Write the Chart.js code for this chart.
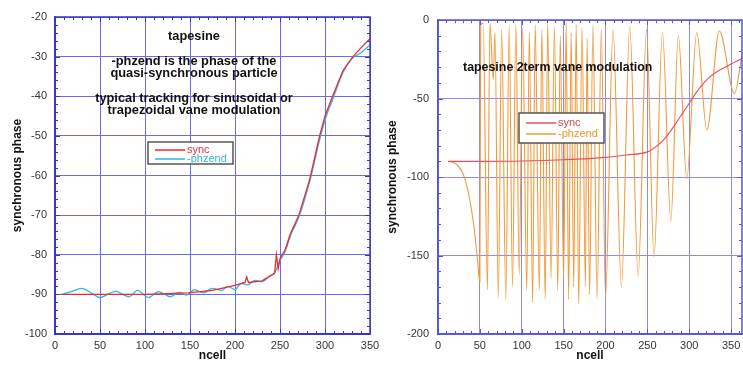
<!DOCTYPE html>
<html>
<head>
<meta charset="utf-8">
<script src="https://cdn.jsdelivr.net/npm/chart.js@4.4.1/dist/chart.umd.min.js"></script>
<style>
  html, body { margin: 0; padding: 0; background: #fff; }
  #wrap { position: relative; width: 743px; height: 365px; overflow: hidden; }
  canvas { position: absolute; top: 0; }
  #left { left: 0; }
  #right { left: 372px; }
</style>
</head>
<body>
<div id="wrap">
  <canvas id="left" width="386" height="365"></canvas>
  <canvas id="right" width="371" height="365"></canvas>
</div>
<script>
// ---- left panel: tapesine (sinusoidal / trapezoidal vane modulation)
const leftSyncX = [7, 50, 100, 148, 175, 200, 211, 213, 215, 230, 244, 246, 248, 250, 256, 261, 271, 283, 294, 300, 309, 320, 331, 340, 350];
const leftSyncY = [-90, -90, -90, -89.6, -89, -87.7, -87, -85.6, -87, -86.6, -84.7, -80, -83.5, -81, -78.6, -75, -70, -61, -50, -45, -39.7, -33.5, -30, -27.8, -25.5];

const leftPhzX = [8, 18, 30, 40, 50, 60, 68, 75, 82, 92, 98, 104, 115, 122, 128, 138, 146, 155, 165, 175, 185, 192, 200, 207, 214, 222, 230, 238, 244, 250, 256, 262, 271, 283, 294, 300, 309, 320, 330, 340, 350];
const leftPhzY = [-90, -89.3, -88.5, -89.6, -90.8, -89.8, -89.2, -90, -90.6, -89, -90, -90.8, -89.3, -90, -90.6, -89.5, -90.2, -88.8, -89.6, -88.5, -89, -88, -88.8, -87.2, -87.6, -86.5, -86.8, -85.5, -84.5, -81.5, -79, -75, -70.5, -61.5, -51, -46, -40.5, -34, -30.5, -29, -27];

// ---- right panel: tapesine 2term vane modulation
const rightSyncX = [12, 50, 100, 150, 200, 225, 250, 262, 270, 280, 290, 300, 310, 322, 333, 345, 363];
const rightSyncY = [-90, -90, -89.8, -89, -87.5, -86, -84, -80, -76, -69, -61, -53, -45, -37.5, -33, -29.5, -24.5];

const rightPhzX = [13, 22, 30, 37, 43, 47, 50, 51, 54, 59, 62, 66, 68, 72, 76, 81, 85, 89, 93, 97, 101, 106, 109, 113, 116, 121, 124, 128, 131, 135, 139, 143, 146, 150, 153, 156, 159, 162, 165, 168, 172, 176, 178, 181, 185, 190, 195, 200, 209, 219, 229, 239, 249, 258, 268, 278, 287, 297, 309, 321, 336, 354, 363];
const rightPhzY = [-90, -92, -98, -112, -132, -152, -167, -3, -2, -172, -2, -38, -8, -177, -6, -178, -4, -170, -3, -162, -5, -172, -8, -180, -3, -172, -6, -178, -2, -165, -4, -172, -10, -165, -2, -178, -8, -170, -3, -181, -5, -170, -12, -175, -3, -178, -6, -177, -6, -170, -4, -163, -6, -151, -8, -128, -10, -101, -8, -70, -7, -47, -22];

const leftText = ['tapesine', '-phzend is the phase of the', 'quasi-synchronous particle', 'typical tracking for sinusoidal or', 'trapezoidal vane modulation'];
const rightText = ['tapesine 2term vane modulation'];

function pts(xs, ys) { return xs.map((x, i) => ({ x: x, y: ys[i] })); }

const FONT = '"Liberation Sans", Arial, Helvetica, sans-serif';

// frame, inward minor ticks, notes and the little legend box
const decorPlugin = {
  id: 'decor',
  afterDraw(chart, args, opts) {
    const { ctx, chartArea: a, scales: { x, y } } = chart;
    ctx.save();
    ctx.strokeStyle = opts.frame;
    ctx.lineWidth = 1.5;
    ctx.strokeRect(a.left, a.top, a.right - a.left, a.bottom - a.top);

    ctx.lineWidth = 1;
    ctx.beginPath();
    for (let v = x.min; v <= x.max + 1e-6; v += opts.xMinor) {
      const px = Math.round(x.getPixelForValue(v)) + 0.5;
      const len = (Math.abs(v % opts.xMajor) < 1e-6) ? 5 : 3;
      ctx.moveTo(px, a.bottom); ctx.lineTo(px, a.bottom - len);
      ctx.moveTo(px, a.top); ctx.lineTo(px, a.top + len);
    }
    for (let v = y.min; v <= y.max + 1e-6; v += opts.yMinor) {
      const py = Math.round(y.getPixelForValue(v)) + 0.5;
      const len = (Math.abs(v % opts.yMajor) < 1e-6) ? 5 : 3;
      ctx.moveTo(a.left, py); ctx.lineTo(a.left + len, py);
      ctx.moveTo(a.right, py); ctx.lineTo(a.right - len, py);
    }
    ctx.stroke();

    // notes
    ctx.fillStyle = '#111';
    ctx.font = 'bold ' + opts.noteSize + 'px ' + FONT;
    ctx.textAlign = opts.noteAlign;
    ctx.textBaseline = 'middle';
    opts.notes.forEach((t, i) => ctx.fillText(t, opts.noteX, opts.noteY[i]));

    // legend
    const L = opts.legend;
    ctx.fillStyle = '#fff';
    ctx.fillRect(L.x, L.y, L.w, L.h);
    ctx.strokeStyle = '#555';
    ctx.lineWidth = 1.5;
    ctx.strokeRect(L.x, L.y, L.w, L.h);
    ctx.font = '11px ' + FONT;
    ctx.textAlign = 'left';
    chart.data.datasets.forEach((ds, i) => {
      const ly = L.y + L.row0 + i * L.rowGap;
      ctx.strokeStyle = ds.borderColor;
      ctx.lineWidth = 1.5;
      ctx.beginPath();
      ctx.moveTo(L.x + 7, ly); ctx.lineTo(L.x + 37, ly);
      ctx.stroke();
      ctx.fillStyle = L.textColors[i];
      ctx.fillText(ds.label, L.x + 39, ly);
    });
    ctx.restore();
  }
};

function buildPanel(id, cfg) {
  return new Chart(document.getElementById(id), {
    type: 'line',
    data: { datasets: cfg.datasets },
    options: {
      responsive: false,
      animation: false,
      devicePixelRatio: 1,
      layout: { padding: cfg.padding },
      elements: { point: { radius: 0 } },
      scales: {
        x: {
          type: 'linear', min: cfg.xMin, max: cfg.xMax,
          afterFit: (s) => { s.height = 31; s.paddingLeft = 0; s.paddingRight = 0; },
          grid: { color: cfg.grid, drawTicks: false, lineWidth: 1 },
          border: { color: cfg.frame, width: 1.5 },
          ticks: { stepSize: 50, includeBounds: false, padding: 5, color: '#333', font: { family: FONT, size: 11 } },
          title: { display: true, text: 'ncell', color: '#111', font: { family: FONT, size: 12, weight: 'bold' }, padding: { top: 0, bottom: 2 } }
        },
        y: {
          type: 'linear', min: cfg.yMin, max: cfg.yMax,
          afterFit: (s) => { s.width = cfg.yWidth; s.paddingTop = 0; s.paddingBottom = 0; },
          grid: { color: cfg.grid, drawTicks: false, lineWidth: 1 },
          border: { color: cfg.frame, width: 1.5 },
          ticks: { stepSize: cfg.yStep, includeBounds: false, padding: cfg.yPad, color: '#333', font: { family: FONT, size: 11 } },
          title: { display: true, text: 'synchronous phase', color: '#111', font: { family: FONT, size: 12, weight: 'bold' }, padding: { top: cfg.yTitlePad, bottom: 0 } }
        }
      },
      plugins: {
        legend: { display: false },
        tooltip: { enabled: false },
        decor: cfg.decor
      }
    },
    plugins: [decorPlugin]
  });
}

buildPanel('left', {
  padding: { top: 17, right: 16, left: 0, bottom: 0 },
  xMin: 0, xMax: 350, yMin: -100, yMax: -20, yStep: 10,
  yWidth: 55, yPad: 8, yTitlePad: 10.3,
  grid: '#6a6ae8', frame: '#3434d0',
  datasets: [
    { label: 'sync', data: pts(leftSyncX, leftSyncY), borderColor: '#ee2a2a', borderWidth: 1.3, tension: 0 },
    { label: '-phzend', data: pts(leftPhzX, leftPhzY), borderColor: '#2fb6ea', borderWidth: 1.3, cubicInterpolationMode: 'monotone' }
  ],
  decor: {
    frame: '#3434d0', xMinor: 10, xMajor: 50, yMinor: 2, yMajor: 10,
    notes: leftText, noteSize: 12.8, noteAlign: 'center', noteX: 194, noteY: [36, 61, 73, 98, 110],
    legend: { x: 148, y: 142, w: 85, h: 22, row0: 8, rowGap: 9, textColors: ['#e83030', '#2fb6ea'] }
  }
});

buildPanel('right', {
  padding: { top: 20, right: 1, left: 0, bottom: 0 },
  xMin: 0, xMax: 363, yMin: -200, yMax: 0, yStep: 50,
  yWidth: 66, yPad: 9, yTitlePad: 13.3,
  grid: '#8c8cee', frame: '#5454dc',
  datasets: [
    { label: 'sync', data: pts(rightSyncX, rightSyncY), borderColor: '#ea5060', borderWidth: 1.2, cubicInterpolationMode: 'monotone' },
    { label: '-phzend', data: pts(rightPhzX, rightPhzY), borderColor: '#f29a3a', borderWidth: 1.1, cubicInterpolationMode: 'monotone' }
  ],
  decor: {
    frame: '#5454dc', xMinor: 10, xMajor: 50, yMinor: 10, yMajor: 50,
    notes: rightText, noteSize: 12.4, noteAlign: 'left', noteX: 91, noteY: [68],
    legend: { x: 147, y: 113, w: 85, h: 30, row0: 10, rowGap: 11, textColors: ['#e04050', '#f0902a'] }
  }
});
</script>
</body>
</html>
